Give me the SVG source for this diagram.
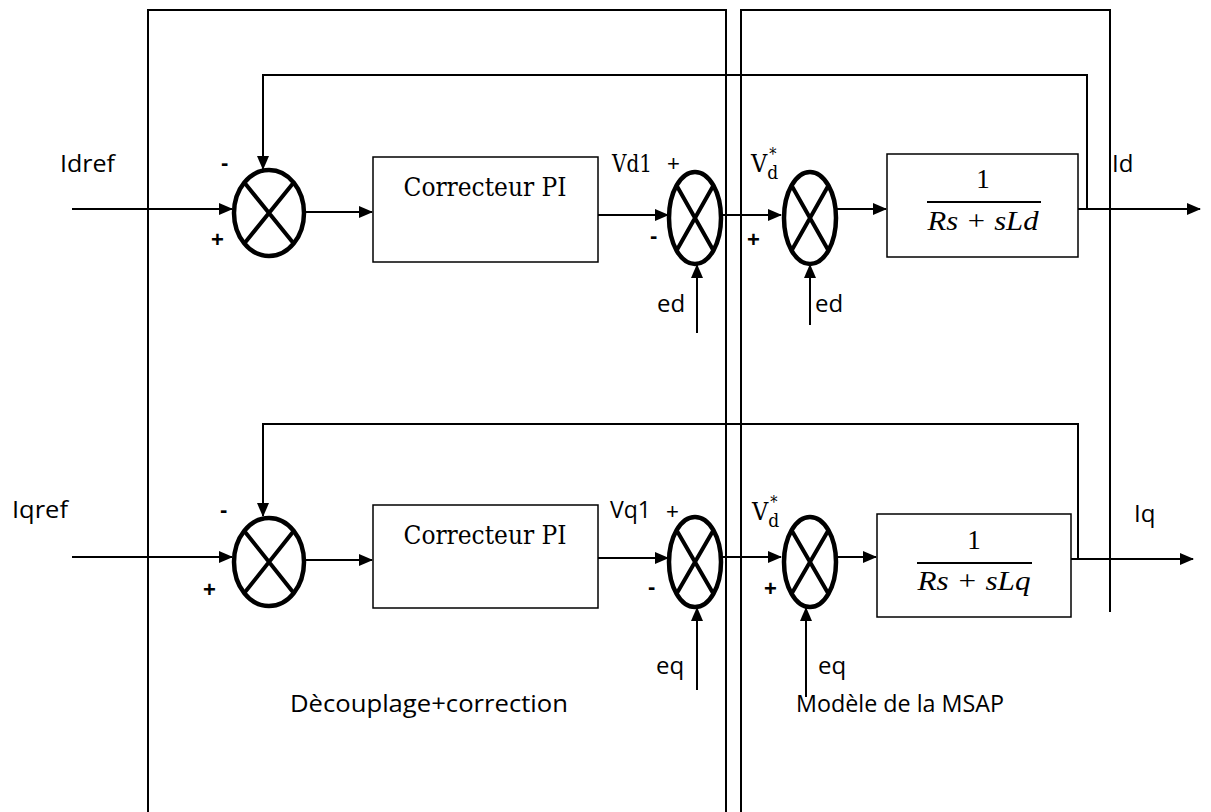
<svg xmlns="http://www.w3.org/2000/svg" width="1211" height="812" viewBox="0 0 1211 812">
  <defs>
    <marker id="arrow" viewBox="0 0 14 12" refX="13" refY="6" markerWidth="14" markerHeight="12" markerUnits="userSpaceOnUse" orient="auto">
      <path d="M0,0 L14,6 L0,12 Z" fill="#000"/>
    </marker>
    <style>
      .frame { fill: none; stroke: #000; stroke-width: 2; }
      .wire { fill: none; stroke: #000; stroke-width: 2; }
      .arr { marker-end: url(#arrow); }
      .box { fill: #fff; stroke: #000; stroke-width: 1.5; }
      .sum { fill: #fff; stroke: #000; stroke-width: 4.5; }
      .cross { stroke: #000; stroke-width: 4; }
      .lbl { font-family: "Open Sans", "Liberation Sans", sans-serif; font-size: 24px; fill: #000; }
      .ser { font-family: "DejaVu Serif", serif; font-stretch: condensed; fill: #000; }
      .math { font-family: "Liberation Serif", serif; font-style: italic; font-size: 27px; fill: #000; }
      .num { font-family: "Liberation Serif", serif; font-size: 27px; fill: #000; }
      .sgn { font-family: "Liberation Sans", sans-serif; font-weight: bold; font-size: 22px; fill: #000; }
      .sgnt { font-family: "Liberation Sans", sans-serif; font-size: 22px; fill: #000; }
    </style>
  </defs>

  <!-- section frames -->
  <g id="frames">
    <path class="frame" d="M148,812 V10 H726 V812"/>
    <path class="frame" d="M741,812 V10 H1110 V612"/>
  </g>

  <!-- connectors -->
  <g id="connectors">
    <!-- d axis -->
    <path class="wire arr" d="M72,209 H232"/>
    <path class="wire arr" d="M305,212 H372"/>
    <path class="wire arr" d="M598,215 H668"/>
    <path class="wire arr" d="M721,215 H781"/>
    <path class="wire arr" d="M836,209 H886"/>
    <path class="wire arr" d="M1078,209 H1200"/>
    <path class="wire arr" d="M1087,209 V75 H263 V169"/>
    <path class="wire arr" d="M697,333 V265"/>
    <path class="wire arr" d="M810,325 V265"/>
    <!-- q axis -->
    <path class="wire arr" d="M72,557 H232"/>
    <path class="wire arr" d="M305,560 H372"/>
    <path class="wire arr" d="M598,558 H668"/>
    <path class="wire arr" d="M721,557 H781"/>
    <path class="wire arr" d="M836,557 H876"/>
    <path class="wire arr" d="M1071,559 H1193"/>
    <path class="wire arr" d="M1078,559 V424 H263 V516"/>
    <path class="wire arr" d="M697,690 V608"/>
    <path class="wire arr" d="M806,697 V608"/>
  </g>

  <!-- d axis nodes -->
  <g id="sum-d1">
    <ellipse class="sum" cx="269" cy="213" rx="35" ry="43"/>
    <path class="cross" d="M244.3,182.6 L293.7,243.4 M293.7,182.6 L244.3,243.4"/>
  </g>
  <g id="pi-d">
    <rect class="box" x="373" y="157" width="225" height="105"/>
    <text class="ser" x="485" y="196" font-size="26" text-anchor="middle" textLength="163" lengthAdjust="spacingAndGlyphs">Correcteur PI</text>
  </g>
  <g id="sum-d2">
    <ellipse class="sum" cx="695" cy="218" rx="26" ry="46"/>
    <path class="cross" d="M676.6,185.5 L713.4,250.5 M713.4,185.5 L676.6,250.5"/>
  </g>
  <g id="sum-d3">
    <ellipse class="sum" cx="810" cy="218" rx="26" ry="46"/>
    <path class="cross" d="M791.6,185.5 L828.4,250.5 M828.4,185.5 L791.6,250.5"/>
  </g>
  <g id="plant-d">
    <rect class="box" x="887" y="154" width="191" height="103"/>
    <text class="num" x="983" y="188" text-anchor="middle">1</text>
    <line x1="927" y1="202" x2="1041" y2="202" stroke="#000" stroke-width="2"/>
    <text class="math" x="983" y="230" text-anchor="middle" textLength="111" lengthAdjust="spacingAndGlyphs">Rs + sLd</text>
  </g>

  <!-- q axis nodes -->
  <g id="sum-q1">
    <ellipse class="sum" cx="269" cy="562" rx="35" ry="44"/>
    <path class="cross" d="M244.3,530.9 L293.7,593.1 M293.7,530.9 L244.3,593.1"/>
  </g>
  <g id="pi-q">
    <rect class="box" x="373" y="505" width="225" height="103"/>
    <text class="ser" x="485" y="544" font-size="26" text-anchor="middle" textLength="163" lengthAdjust="spacingAndGlyphs">Correcteur PI</text>
  </g>
  <g id="sum-q2">
    <ellipse class="sum" cx="695" cy="562" rx="26" ry="45"/>
    <path class="cross" d="M676.6,530.2 L713.4,593.8 M713.4,530.2 L676.6,593.8"/>
  </g>
  <g id="sum-q3">
    <ellipse class="sum" cx="810" cy="562" rx="26" ry="45"/>
    <path class="cross" d="M791.6,530.2 L828.4,593.8 M828.4,530.2 L791.6,593.8"/>
  </g>
  <g id="plant-q">
    <rect class="box" x="877" y="514" width="194" height="103"/>
    <text class="num" x="974" y="549" text-anchor="middle">1</text>
    <line x1="917" y1="563" x2="1032" y2="563" stroke="#000" stroke-width="2"/>
    <text class="math" x="974" y="590" text-anchor="middle" textLength="113" lengthAdjust="spacingAndGlyphs">Rs + sLq</text>
  </g>

  <!-- signal labels -->
  <g id="labels">
    <text class="lbl" x="60" y="172" textLength="55" lengthAdjust="spacingAndGlyphs">Idref</text>
    <text class="lbl" x="12" y="518" textLength="56" lengthAdjust="spacingAndGlyphs">Iqref</text>
    <text class="lbl" x="1112" y="172">Id</text>
    <text class="lbl" x="1134" y="522">Iq</text>
    <text class="lbl" x="657" y="312">ed</text>
    <text class="lbl" x="815" y="312">ed</text>
    <text class="lbl" x="656" y="674">eq</text>
    <text class="lbl" x="818" y="674">eq</text>
    <text class="ser" x="612" y="172" font-size="25" textLength="40" lengthAdjust="spacingAndGlyphs">Vd1</text>
    <text class="lbl" x="610" y="518" textLength="41" lengthAdjust="spacingAndGlyphs">Vq1</text>
    <text class="ser" x="751" y="172" font-size="25">V<tspan font-size="19" dy="7">d</tspan><tspan font-size="16" dx="-9" dy="-19">*</tspan></text>
    <text class="ser" x="752" y="520" font-size="25">V<tspan font-size="19" dy="7">d</tspan><tspan font-size="16" dx="-9" dy="-19">*</tspan></text>
    <text class="lbl" x="290" y="712" textLength="278" lengthAdjust="spacingAndGlyphs">Dècouplage+correction</text>
    <text class="lbl" x="796" y="712" textLength="208" lengthAdjust="spacingAndGlyphs">Modèle de la MSAP</text>
  </g>

  <!-- summing junction signs -->
  <g id="signs">
    <text class="sgn" x="221" y="170">-</text>
    <text class="sgn" x="211" y="247">+</text>
    <text class="sgnt" x="667" y="171">+</text>
    <text class="sgn" x="650" y="243">-</text>
    <text class="sgn" x="747" y="247">+</text>
    <text class="sgn" x="220" y="517">-</text>
    <text class="sgn" x="203" y="597">+</text>
    <text class="sgnt" x="666" y="519">+</text>
    <text class="sgn" x="648" y="594">-</text>
    <text class="sgn" x="764" y="596" font-size="26">+</text>
  </g>
</svg>
